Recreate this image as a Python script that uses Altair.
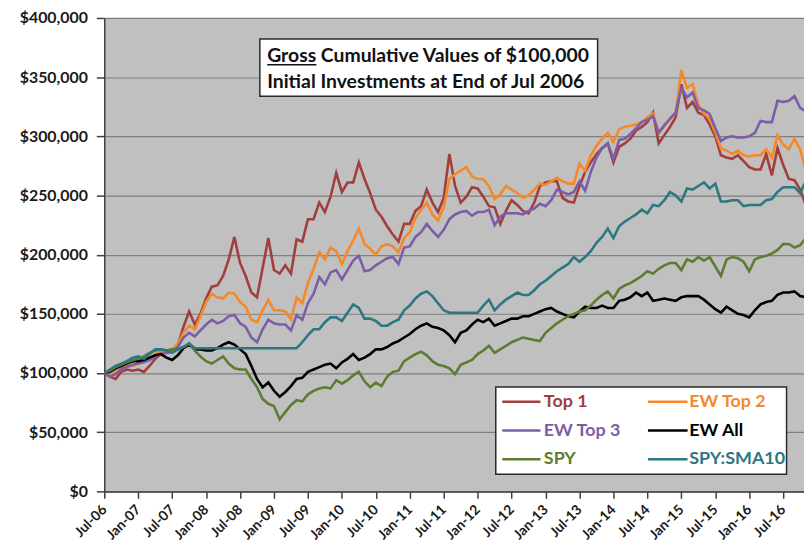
import json
import altair as alt
import pandas as pd

# ---------------- data ----------------
x_labels = ["Jul-06", "Jan-07", "Jul-07", "Jan-08", "Jul-08", "Jan-09", "Jul-09",
            "Jan-10", "Jul-10", "Jan-11", "Jul-11", "Jan-12", "Jul-12", "Jan-13",
            "Jul-13", "Jan-14", "Jul-14", "Jan-15", "Jul-15", "Jan-16", "Jul-16"]

series_names = ["Top 1", "EW Top 2", "EW Top 3", "EW All", "SPY", "SPY:SMA10"]
series_colors = ["#A23E3B", "#F5892A", "#7B5EA7", "#000000", "#5E7B2F", "#2C7782"]

# monthly values in $ thousands, end of Jul 2006 (month 0) to Nov 2016 (month 124)
top1 = [100, 97, 95, 101, 103, 102, 103, 101, 106, 112,
        116, 118, 119, 124, 139, 152, 141, 150, 163, 173,
        174, 182, 196, 215, 193, 182, 168, 164, 189, 214,
        187, 184, 191, 184, 213, 211, 230, 230, 244, 236,
        249, 269, 253, 261, 261, 278, 264, 252, 238, 232,
        224, 217, 211, 226, 226, 237, 241, 255, 244, 236,
        248, 285, 258, 244, 249, 257, 256, 249, 241, 240,
        226, 237, 246, 242, 237, 235, 244, 258, 261, 262,
        262, 248, 245, 244, 258, 270, 278, 285, 290, 294,
        278, 291, 294, 298, 305, 308, 312, 320, 294, 301,
        308, 316, 344, 324, 329, 320, 318, 310, 300, 284,
        282, 281, 284, 279, 274, 272, 272, 285, 267, 290,
        276, 264, 263, 255, 242]

ew_top2 = [100, 98, 101, 104, 106, 106, 108, 111, 113, 116,
           118, 119, 120, 125, 134, 140, 137, 148, 160, 167,
           164, 163, 168, 167, 160, 156, 145, 143, 153, 162,
           153, 153, 152, 145, 164, 159, 176, 188, 202, 196,
           206, 203, 192, 203, 212, 222, 209, 205, 200, 207,
           209, 207, 202, 214, 219, 231, 238, 244, 234, 229,
           240, 264, 268, 271, 274, 266, 264, 264, 258, 247,
           251, 258, 255, 252, 248, 250, 255, 260, 259, 262,
           265, 262, 260, 260, 277, 271, 284, 292, 298, 303,
           295, 306, 308, 309, 310, 312, 316, 319, 303, 310,
           314, 320, 356, 341, 344, 327, 319, 315, 303, 290,
           288, 285, 288, 284, 283, 284, 284, 289, 282, 301,
           293, 289, 298, 289, 271]

ew_top3 = [100, 97, 99, 103, 105, 107, 108, 109, 111, 114,
           116, 117, 118, 122, 130, 134, 131, 136, 141, 145,
           142, 144, 148, 149, 142, 139, 130, 126, 137, 145,
           142, 141, 141, 136, 149, 145, 159, 167, 181, 175,
           185, 187, 179, 187, 195, 199, 186, 187, 191, 194,
           197, 198, 192, 206, 207, 215, 219, 226, 220, 215,
           221, 230, 234, 236, 237, 233, 236, 236, 238, 225,
           232, 235, 235, 235, 234, 237, 239, 243, 241, 246,
           255, 253, 251, 253, 262, 254, 270, 282, 290, 294,
           281, 297, 298, 302, 307, 312, 314, 317, 303, 309,
           315, 320, 341, 333, 337, 324, 322, 319, 307, 296,
           299, 300, 299, 299, 300, 303, 313, 312, 312, 330,
           329, 330, 334, 324, 321]

ew_all = [100, 101, 104, 106, 108, 110, 110, 111, 113, 115,
          116, 113, 111, 115, 121, 124, 120, 120, 119, 119,
          121, 124, 126, 124, 120, 116, 106, 95, 88, 92,
          85, 80, 84, 89, 95, 96, 101, 103, 105, 107,
          108, 104, 109, 112, 116, 111, 113, 116, 120, 120,
          122, 125, 127, 130, 133, 137, 140, 142, 139, 138,
          136, 132, 126, 134, 136, 141, 145, 143, 146, 140,
          142, 144, 146, 146, 148, 148, 150, 152, 154, 155,
          152, 150, 148, 147, 152, 156, 155, 155, 157, 155,
          155, 161, 162, 164, 168, 165, 168, 161, 162, 163,
          162, 161, 164, 165, 165, 165, 162, 158, 154, 151,
          156, 153, 150, 149, 147, 153, 158, 160, 161, 166,
          168, 168, 169, 165, 164]

spy = [100, 102, 105, 107, 109, 111, 112, 114, 117, 119,
       120, 119, 120, 120, 122, 125, 119, 114, 110, 108,
       111, 114, 108, 104, 103, 103, 95, 88, 78, 74,
       72, 61, 67, 73, 77, 76, 82, 85, 87, 88,
       87, 94, 91, 94, 98, 101, 93, 88, 92, 89,
       97, 101, 102, 110, 113, 116, 118, 115, 110, 107,
       106, 104, 99, 107, 109, 111, 116, 119, 123, 117,
       120, 123, 126, 128, 130, 129, 128, 127, 134, 138,
       142, 145, 148, 150, 152, 153, 157, 162, 166, 169,
       163, 171, 174, 176, 179, 182, 186, 184, 188, 191,
       193, 193, 187, 196, 194, 198, 195, 198, 190, 182,
       196, 198, 197, 194, 186, 196, 198, 199, 201, 204,
       209, 209, 206, 208, 214]

spy_sma10 = [100, 103, 106, 108, 110, 113, 114, 112, 116, 120,
             120, 119, 117, 120, 122, 125, 121, 121, 121, 121,
             121, 121, 121, 121, 121, 121, 121, 121, 121, 121,
             121, 121, 121, 121, 121, 126, 132, 137, 137, 143,
             147, 147, 144, 151, 158, 155, 146, 146, 144, 140,
             140, 143, 145, 153, 157, 163, 167, 169, 165, 159,
             153, 151, 151, 151, 151, 151, 151, 157, 162, 153,
             158, 162, 165, 168, 166, 166, 170, 175, 178, 182,
             186, 189, 192, 198, 194, 198, 203, 210, 215, 222,
             214, 224, 228, 231, 234, 238, 235, 242, 241, 246,
             253, 250, 245, 256, 255, 258, 261, 256, 260, 245,
             245, 246, 246, 241, 242, 242, 242, 246, 247, 253,
             257, 257, 257, 252, 262]

all_series = [top1, ew_top2, ew_top3, ew_all, spy, spy_sma10]

title_lines = ["Gross Cumulative Values of $100,000",
               "Initial Investments at End of Jul 2006"]

# ---------------- tables ----------------
rows = []
for name, vals in zip(series_names, all_series):
    for m, v in enumerate(vals):
        rows.append({"m": m, "value": v * 1000, "series": name})
df = pd.DataFrame(rows)

# annotation layout (in data units: month index / dollars)
legend_cols = [(70.35, 77.1, 77.7), (96.1, 103.1, 103.4)]
legend_rows = [75700, 51400, 27100]
leg = []
for i, name in enumerate(series_names):
    c0, c1, ct = legend_cols[i % 2]
    yv = legend_rows[i // 2]
    leg.append({"series": name, "m": c0, "m_end": c1, "mt": ct, "value": yv})
leg_df = pd.DataFrame(leg)
leg_box = pd.DataFrame([{"m": 69.2, "m_end": 120.6, "value": 14500, "value_end": 88300}])

tbox = pd.DataFrame([{"m": 27.5, "m_end": 87.2, "value": 333800, "value_end": 382200}])
ttext = pd.DataFrame([{"m": 28.8, "value": 368100, "text": title_lines[0]},
                      {"m": 28.8, "value": 345900, "text": title_lines[1]}])
tunder = pd.DataFrame([{"m": 28.8, "m_end": 37.5, "value": 360400}])

# ---------------- chart ----------------
FONT = "Lato"
X_MAX = 705 / 5.7
xscale = alt.Scale(domain=[0, X_MAX], nice=False, zero=False)
yscale = alt.Scale(domain=[0, 400000], nice=False)
cscale = alt.Scale(domain=series_names, range=series_colors)

label_expr = json.dumps(x_labels) + "[round(datum.value / 6)]"

x_axis = alt.Axis(values=list(range(0, 121, 6)), labelExpr=label_expr,
                  labelAngle=315, labelAlign="right", labelBaseline="middle",
                  labelFont=FONT, labelFontWeight="bold", labelFontSize=14,
                  labelColor="#1A1A1A", labelPadding=9, labelOverlap=False,
                  tickSize=7, tickColor="#404040", tickWidth=1.5,
                  domainColor="#404040", domainWidth=1.5, grid=False, title=None)
y_axis = alt.Axis(values=list(range(0, 400001, 50000)), format="$,.0f",
                  labelFont=FONT, labelFontWeight="bold", labelFontSize=16,
                  labelColor="#1A1A1A", labelPadding=9,
                  tickSize=8, tickColor="#404040", tickWidth=1.5,
                  domainColor="#404040", domainWidth=1.5,
                  grid=True, gridColor="#7F7F7F", gridWidth=1.2, title=None)

X = alt.X("m:Q", scale=xscale, axis=x_axis)
Y = alt.Y("value:Q", scale=yscale, axis=y_axis)
C = alt.Color("series:N", scale=cscale, legend=None)

lines = alt.Chart(df).mark_line(strokeWidth=2.6, clip=True).encode(x=X, y=Y, color=C)

title_box = alt.Chart(tbox).mark_rect(fill="white", stroke="#2A2A2A", strokeWidth=1.5).encode(
    x=X, x2="m_end", y=Y, y2="value_end")
title_txt = alt.Chart(ttext).mark_text(align="left", baseline="middle", font=FONT,
                                       fontWeight="bold", fontSize=19.5, color="#111111").encode(
    x=X, y=Y, text="text:N")
title_ul = alt.Chart(tunder).mark_rule(color="#111111", strokeWidth=1.5).encode(
    x=X, x2="m_end", y=Y)

legend_box = alt.Chart(leg_box).mark_rect(fill="white", stroke="#2A2A2A", strokeWidth=1.5).encode(
    x=X, x2="m_end", y=Y, y2="value_end")
legend_lines = alt.Chart(leg_df).mark_rule(strokeWidth=2.6).encode(
    x=X, x2="m_end", y=Y, color=C)
legend_text = alt.Chart(leg_df).mark_text(align="left", baseline="middle", font=FONT,
                                          fontWeight="bold", fontSize=18).encode(
    x=alt.X("mt:Q", scale=xscale, axis=x_axis), y=Y, text="series:N", color=C)

chart = alt.layer(lines, title_box, title_txt, title_ul,
                  legend_box, legend_lines, legend_text).properties(
    width=705, height=477,
    padding={"left": 97, "top": 8, "right": 0, "bottom": 56},
    autosize=alt.AutoSizeParams(type="none"),
    background="white",
).configure_view(fill="#C0C0C0", stroke=None)

chart.save("out.html", embed_options={"renderer": "svg", "actions": False})
